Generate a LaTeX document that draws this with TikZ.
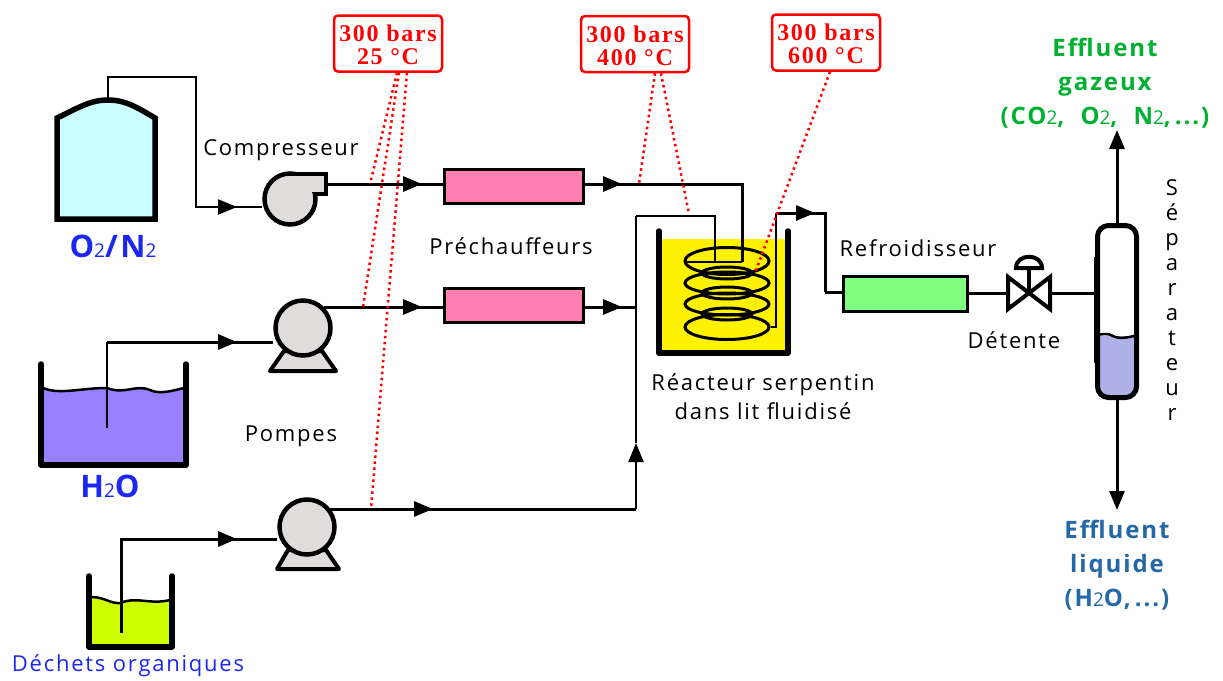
\documentclass[tikz,border=0pt]{standalone}
\usepackage{fontspec}
\setmainfont[LetterSpace=8]{Open Sans}
\newfontfamily\tagfont[LetterSpace=7]{Liberation Serif}
\usepackage{xcolor}
\usetikzlibrary{shapes.geometric, arrows.meta, calc, positioning, backgrounds}
\definecolor{machinegray}{HTML}{E0DCDC}
\definecolor{gasgreen}{HTML}{00B030}
\definecolor{liquidblue}{HTML}{2468A8}
\definecolor{namedblue}{HTML}{1C28F0}
\definecolor{heaterpink}{HTML}{FF80B0}
\definecolor{coolergreen}{HTML}{80FF80}
\definecolor{gascyan}{HTML}{CCFFFF}
\definecolor{waterviolet}{HTML}{9980FF}
\definecolor{wastelime}{HTML}{CCFF00}
\definecolor{bottomblue}{HTML}{B0B0E8}
\newcommand{\indice}[1]{{\fontsize{19}{19}\selectfont\mdseries #1}}

\begin{document}
\begin{tikzpicture}[
    x=1pt, y=-1pt,
    >={Triangle[length=19pt,width=15pt]},
    caption/.style={font=\fontsize{22}{29}\selectfont, inner sep=0pt, align=center},
    formula/.style={caption, text=namedblue, font=\fontsize{31}{34}\selectfont\bfseries},
    effluent/.style={caption, font=\fontsize{24}{34}\selectfont\bfseries},
    tag/.style={rectangle, draw=red, line width=2.5pt, rounded corners=4pt, fill=white, text=red, inner sep=0pt, align=center, minimum width=108pt, minimum height=56pt, font=\fontsize{24}{23}\selectfont\tagfont\bfseries},
    heater/.style={rectangle, draw, line width=3pt, fill=#1, inner sep=0pt},
    machine/.style={circle, draw, line width=4.5pt, fill=machinegray, inner sep=0pt},
    wall/.style={line width=5.5pt, line cap=round, line join=round},
    surface/.style={line width=2.5pt},
    coil/.style={ellipse, draw, line width=3pt, inner sep=0pt},
    pipe/.style={line width=3pt},
    thinpipe/.style={line width=2.2pt},
    probe/.style={red, line width=2.5pt, dash pattern=on 2.5pt off 3.5pt}
]
\useasboundingbox (0,0) rectangle (1223,680);

% Compressor and pumps
\draw[line width=4pt, fill=machinegray, line join=round] (284,351) -- (322,351) -- (336,371) -- (270,371) -- cycle;
\draw[line width=4pt, fill=machinegray, line join=round] (288,550) -- (326,550) -- (339,569) -- (277,569) -- cycle;
\node[machine, minimum size=51pt] (compressor) at (290,199) {};
\fill[machinegray] (290,176) rectangle (324,192);
\draw[line width=4.5pt, line join=miter] (290,174) -- (326,174) -- (326,194) -- (315,194);
\node[machine, minimum size=55pt] (pump_water) at (303,328) {};
\node[machine, minimum size=55pt] (pump_waste) at (307,527) {};

% Preheaters and cooler
\node[heater=heaterpink, minimum width=139pt, minimum height=34pt] (heater_top) at (513.5,186) {};
\node[heater=heaterpink, minimum width=139pt, minimum height=34pt] (heater_bottom) at (513.5,305) {};
\node[heater=coolergreen, minimum width=124pt, minimum height=35pt] (cooler) at (905,293.5) {};

% Valve
\draw[line width=4pt, fill=white, line join=miter] (1008,277) -- (1008,309) -- (1050,277) -- (1050,309) -- cycle;
\node[inner sep=0pt, minimum width=44pt, minimum height=34pt] (valve) at (1029,293) {};
\draw[line width=4pt] (valve.center) -- (1029,268);
\draw[line width=4pt, fill=white] (1016,268) .. controls (1016,253) and (1042,253) .. (1042,268) -- cycle;

% Separator
\fill[bottomblue] (1097,336) -- (1097,392) -- (1106,399) -- (1128,399) -- (1137,392) -- (1137,336) -- cycle;
\draw[surface] (1096,335) .. controls (1104,334) and (1108,333) .. (1113,336) .. controls (1118,339) and (1128,338) .. (1137,335);
\node[rectangle, draw, line width=5pt, rounded corners=11pt, minimum width=39pt, minimum height=172pt] (separator) at (1117,311.5) {};
\draw[line width=3pt] (1095,257) -- (1095,363);

\begin{scope}[on background layer]
% Oxygen tank
\draw[wall, fill=gascyan, line cap=butt, line join=miter] (57,219) -- (57,118) .. controls (78,108) and (90,100) .. (108,100) .. controls (126,100) and (138,108) .. (155,118) -- (155,219) -- cycle;
\coordinate (tank_gas) at (108,100);

% Water tank
\fill[waterviolet] (43,389) .. controls (60,395) and (80,388) .. (107,388) .. controls (125,395) and (135,384) .. (150,390) .. controls (160,395) and (175,390) .. (184,388) -- (184,464) -- (43,464) -- cycle;
\draw[surface] (43,388) .. controls (60,395) and (80,388) .. (107,388) .. controls (125,395) and (135,384) .. (150,390) .. controls (160,395) and (175,390) .. (184,388);
\draw[wall] (41,364) -- (41,465) -- (186,465) -- (186,364);
\coordinate (tank_water) at (107,428);

% Waste tank
\fill[wastelime] (91,597) .. controls (105,597) and (110,604) .. (121,603) .. controls (135,596) and (150,605) .. (170,600) -- (170,646) -- (91,646) -- cycle;
\draw[surface] (91,597) .. controls (105,597) and (110,604) .. (121,603) .. controls (135,596) and (150,605) .. (170,600);
\draw[wall] (89,576) -- (89,647) -- (172,647) -- (172,576);
\coordinate (tank_waste) at (121,633);

% Reactor
\fill[yellow] (659,239) rectangle (788,353);
\draw[wall] (659,231) -- (659,353) -- (788,353) -- (788,231);
\node[coil, minimum width=50pt, minimum height=12pt] (coil_back_a) at (727,273) {};
\node[coil, minimum width=50pt, minimum height=12pt] (coil_back_b) at (727,293) {};
\node[coil, minimum width=50pt, minimum height=12pt] (coil_back_c) at (727,314) {};
\node[coil, minimum width=84pt, minimum height=27pt] (coil_a) at (727,261) {};
\node[coil, minimum width=84pt, minimum height=22pt] (coil_b) at (727,283) {};
\node[coil, minimum width=84pt, minimum height=22pt] (coil_c) at (727,304) {};
\node[coil, minimum width=84pt, minimum height=25pt] (coil_d) at (727,327) {};

% Flow coordinates
\coordinate (corner_gas) at (196,77);
\coordinate (arrow_gas) at (237,207);
\coordinate (arrow_water) at (237,342);
\coordinate (arrow_waste) at (237,539);
\coordinate (outlet_gas) at (326,184);
\coordinate (arrow_hot) at (422,184);
\coordinate (arrow_warm) at (422,307);
\coordinate (arrow_waste_out) at (433,509);
\coordinate (arrow_top_out) at (622,184);
\coordinate (arrow_bottom_out) at (622,307);
\coordinate (arrow_riser) at (636,443);
\coordinate (junction) at (636,307);
\coordinate (feed) at (636,216);
\coordinate (coil_in) at (715,262);
\coordinate (hot_in) at (742,262);
\coordinate (coil_exit) at (776,213);
\coordinate (arrow_exit) at (815,213);
\coordinate (drop) at (825,292);
\coordinate (arrow_up) at (1117,130);
\coordinate (arrow_down) at (1117,510);

% Gas line
\draw[thinpipe] (tank_gas) |- (corner_gas) |- (arrow_gas -| compressor.west);
\draw[thinpipe, ->] (corner_gas |- arrow_gas) -- (arrow_gas);
\draw[pipe] (outlet_gas) -- (outlet_gas -| heater_top.west);
\draw[pipe, ->] (outlet_gas) -- (arrow_hot);

% Water line
\draw[thinpipe] (tank_water) -- (tank_water |- arrow_water);
\draw[pipe] (tank_water |- arrow_water) -- (arrow_water -| pump_water.west);
\draw[pipe, ->] (tank_water |- arrow_water) -- (arrow_water);
\draw[pipe] (pump_water.north east |- arrow_warm) -- (arrow_warm -| heater_bottom.west);
\draw[pipe, ->] (pump_water.north east |- arrow_warm) -- (arrow_warm);

% Waste line
\draw[pipe] (tank_waste) |- (arrow_waste -| pump_waste.west);
\draw[pipe, ->] (tank_waste |- arrow_waste) -- (arrow_waste);
\draw[pipe] (pump_waste.north east |- arrow_waste_out) -- (junction |- arrow_waste_out);
\draw[pipe, ->] (pump_waste.north east |- arrow_waste_out) -- (arrow_waste_out);
\draw[thinpipe, ->] (junction |- arrow_waste_out) -- (arrow_riser);

% Preheater outlets and feed to the coil
\draw[pipe] (heater_top.east |- arrow_top_out) -| (hot_in);
\draw[pipe, ->] (heater_top.east |- arrow_top_out) -- (arrow_top_out);
\draw[pipe] (heater_bottom.east |- arrow_bottom_out) -- (junction);
\draw[pipe, ->] (heater_bottom.east |- arrow_bottom_out) -- (arrow_bottom_out);
\draw[thinpipe] (arrow_riser) -- (feed);
\draw[thinpipe] (feed) -| (coil_in);
\draw[line width=2.5pt] (hot_in) -- (coil_a.west |- hot_in);

% Reactor outlet to separator
\draw[thinpipe] (coil_d.east) -| (coil_exit);
\draw[pipe] (coil_exit) -| (drop);
\draw[pipe, ->] (coil_exit) -- (arrow_exit);
\draw[pipe] (drop) -- (cooler.west |- drop);
\draw[pipe] (cooler.east |- valve) -- (valve.east);
\draw[pipe] (valve.east) -- (valve.east -| separator.west);
\draw[pipe, ->] (separator.north) -- (arrow_up);
\draw[pipe, ->] (separator.south) -- (arrow_down);
\end{scope}

% Pressure and temperature tags
\node[tag] (tag_cold) at (388,43.5) {\rule{0pt}{20pt}300 bars\\25 °C};
\node[tag] (tag_warm) at (635,44) {\rule{0pt}{20pt}300 bars\\400 °C};
\node[tag] (tag_hot) at (826,42.5) {\rule{0pt}{20pt}300 bars\\600 °C};

\coordinate (probe_gas) at (370,184);
\coordinate (probe_water) at (363,307);
\coordinate (probe_waste) at (371,509);
\coordinate (probe_warm) at (639,184);
\coordinate (probe_feed) at (689,214);
\coordinate (probe_coil) at (755,273);

\draw[probe] ([xshift=9pt]tag_cold.south) -- (probe_gas);
\draw[probe] ([xshift=11pt]tag_cold.south) -- (probe_water);
\draw[probe] ([xshift=19pt]tag_cold.south) -- (probe_waste);
\draw[probe] ([xshift=20pt]tag_warm.south) -- (probe_warm);
\draw[probe] ([xshift=26pt]tag_warm.south) -- (probe_feed);
\draw[probe] ([xshift=4pt]tag_hot.south) -- (probe_coil);

% Labels
\node[caption] (compressor_label) at (281,150) {Compresseur};
\node[caption] (heater_label) at (511,246) {Préchauffeurs};
\node[caption] (pump_label) at (291,436) {Pompes};
\node[caption] (reactor_label) at (763,397) {Réacteur serpentin\\dans lit fluidisé};
\node[caption] (cooler_label) at (918,248) {Refroidisseur};
\node[caption] (valve_label) at (1014,340) {Détente};
\node[caption, font=\fontsize{22}{25}\selectfont] (separator_label) at (1172,300) {S\\é\\p\\a\\r\\a\\t\\e\\u\\r};
\node[formula] (gas_name) at (113,246) {O\indice{2}/N\indice{2}};
\node[formula] (water_name) at (110,486) {H\indice{2}O};
\node[caption, text=namedblue] (waste_name) at (128,666) {Déchets organiques};
\node[effluent, text=gasgreen] (gas_out) at (1105,83) {Effluent\\gazeux\\(CO\indice{2},\,\, O\indice{2},\,\, N\indice{2},\,...)};
\node[effluent, text=liquidblue] (liquid_out) at (1117,565) {Effluent\\liquide\\(H\indice{2}O,\,...)};

\end{tikzpicture}
\end{document}
